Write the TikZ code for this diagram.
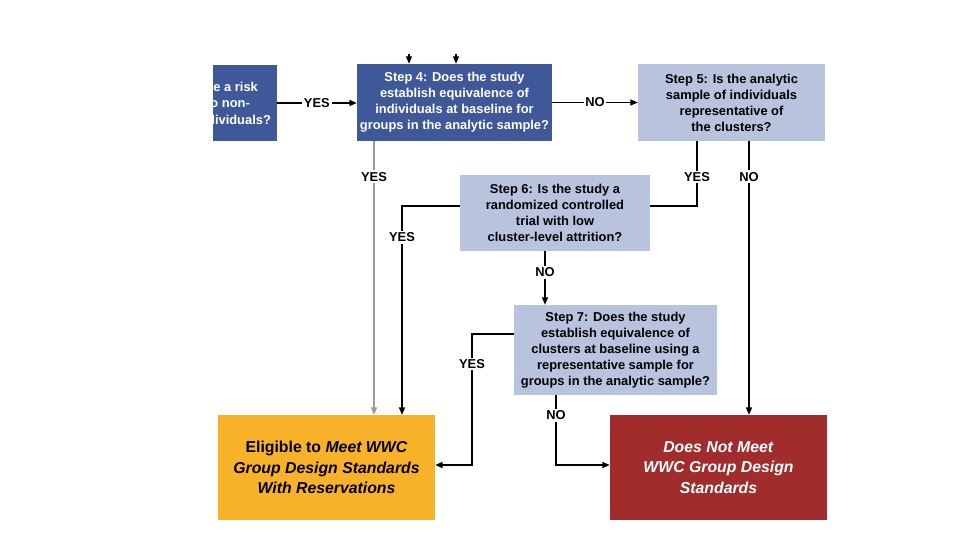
\documentclass[tikz,border=0pt]{standalone}
\usepackage{fontspec}
\setmainfont{Liberation Sans}
\usetikzlibrary{positioning, arrows.meta}

\definecolor{stepdark}{RGB}{62,88,154}
\definecolor{steplight}{RGB}{184,196,222}
\definecolor{okorange}{RGB}{247,178,41}
\definecolor{failred}{RGB}{160,44,44}

\begin{document}
\begin{tikzpicture}[
    x=0.3mm, y=-0.3mm,
    stepbox/.style={rectangle, inner sep=2pt, align=center, font=\fontsize{11}{13.6}\selectfont\bfseries},
    dark/.style={stepbox, fill=stepdark, text=white},
    light/.style={stepbox, fill=steplight, text=black},
    outcome/.style={rectangle, align=center, minimum width=65.1mm, minimum height=31.5mm,
        font=\fontsize{13.5}{17.5}\selectfont\bfseries},
    lbl/.style={fill=white, inner sep=1.5pt, font=\fontsize{11}{12}\selectfont\bfseries},
    arrow/.style={-{Triangle[width=1.8mm, length=2.2mm]}, line width=1pt},
    line/.style={line width=1pt}
]
    \useasboundingbox (0,0) rectangle (960,540);

    % cut-off step on the left
    \fill[stepdark] (213,65) rectangle (277,141);
    \begin{scope}
        \clip (213,65) rectangle (277,141);
        \node[anchor=east, text=white, font=\fontsize{11}{12}\selectfont\bfseries] (s3a) at (262,87) {there a risk};
        \node[anchor=east, text=white, font=\fontsize{11}{12}\selectfont\bfseries] (s3b) at (254,103) {due to non-};
        \node[anchor=east, text=white, font=\fontsize{11}{12}\selectfont\bfseries] (s3c) at (275,120) {individuals?};
    \end{scope}
    \coordinate (s3) at (277,103);

    \node[dark, minimum width=58.5mm, minimum height=23.1mm] (s4) at (454.5,102.5)
        {Step 4: Does the study\\establish equivalence of\\individuals at baseline for\\groups in the analytic sample?};
    \node[light, minimum width=56.1mm, minimum height=23.1mm] (s5) at (731.5,102.5)
        {Step 5: Is the analytic\\sample of individuals\\representative of\\the clusters?};
    \node[light, minimum width=57mm, minimum height=22.8mm] (s6) at (555,213)
        {Step 6: Is the study a\\randomized controlled\\trial with low\\cluster-level attrition?};
    \node[light, minimum width=60.9mm, minimum height=27mm] (s7) at (615.5,350)
        {Step 7: Does the study\\establish equivalence of\\clusters at baseline using a\\representative sample for\\groups in the analytic sample?};

    \node[outcome, fill=okorange, text=black] (elig) at (326.5,467.5)
        {Eligible to \textit{Meet WWC}\\\textit{Group Design Standards}\\\textit{With Reservations}};
    \node[outcome, fill=failred, text=white] (fail) at (718.5,467.5)
        {\textit{Does Not Meet}\\\textit{WWC Group Design}\\\textit{Standards}};

    % arrows coming in from above
    \coordinate (in1) at (409,54);
    \coordinate (in2) at (456,54);
    \draw[arrow] (in1) -- (in1 |- s4.north);
    \draw[arrow] (in2) -- (in2 |- s4.north);

    % corners
    \coordinate (c4) at (374,141);
    \coordinate (c5yes) at (697,206);
    \coordinate (c5no) at (749,141);
    \coordinate (c6yes) at (402,206);
    \coordinate (c6no) at (545,251);
    \coordinate (c7yes) at (472,334);
    \coordinate (c7no) at (556,465);

    \draw[arrow] (s3) -- node[lbl]{YES} (s4.west |- s3);
    \draw[arrow] (s4) -- node[lbl]{NO} (s5);

    \draw[arrow, gray!80] (c4) -- node[lbl, pos=0.13, text=black]{YES} (c4 |- elig.north);

    \draw[line] (c5yes |- s5.south) -- node[lbl, pos=0.55]{YES} (c5yes) -- (c5yes -| s6.east);
    \draw[arrow] (c5no) -- node[lbl, pos=0.13]{NO} (c5no |- fail.north);

    \draw[arrow] (s6.west |- c6yes) -- (c6yes) -- node[lbl, pos=0.15]{YES} (c6yes |- elig.north);
    \draw[arrow] (c6no) -- node[lbl, pos=0.4]{NO} (c6no |- s7.north);

    \draw[arrow] (s7.west |- c7yes) -- (c7yes) -- node[lbl, pos=0.23]{YES} (c7yes |- c7no) -- (elig.east |- c7no);
    \draw[arrow] (c7no |- s7.south) -- node[lbl, pos=0.29]{NO} (c7no) -- (fail.west |- c7no);

\end{tikzpicture}
\end{document}
